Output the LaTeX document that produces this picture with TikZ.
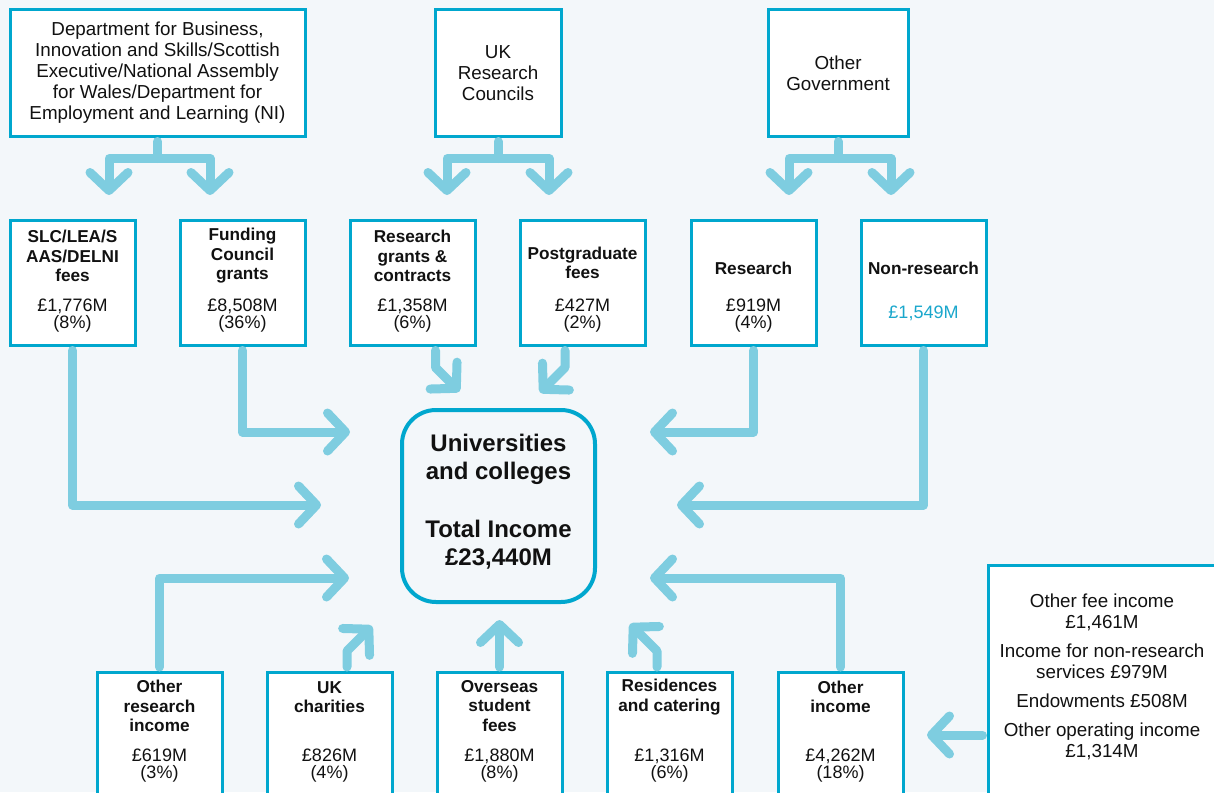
\documentclass[tikz,border=0pt]{standalone}
\usepackage{fontspec}
\setmainfont{Liberation Sans}
\usetikzlibrary{arrows.meta,positioning,calc}
\definecolor{pagebg}{HTML}{F3F7FA}
\definecolor{edgecol}{HTML}{00A7CE}
\definecolor{flowcol}{HTML}{7ECDE0}
\definecolor{ink}{HTML}{111111}
\definecolor{hicol}{HTML}{1AA7CC}

\begin{document}
\begin{tikzpicture}[
  x=0.5pt, y=-0.5pt, text=ink,
  font={\fontsize{9.4}{10.5}\selectfont},
  srcbox/.style={draw=edgecol, fill=white, line width=1.5pt, minimum height=63pt,
    align=center, inner sep=0pt},
  cellbox/.style={draw=edgecol, fill=white, line width=1.5pt, minimum width=62.5pt,
    minimum height=62.5pt, inner sep=0pt},
  ttl/.style={font={\bfseries\fontsize{8.6}{9.75}\selectfont}, align=center, inner sep=0pt},
  amt/.style={font={\fontsize{9}{8.5}\selectfont}, align=center, inner sep=0pt},
  link/.style={draw=flowcol, line width=4.5pt, line cap=round, line join=round},
  flow/.style={link, -{Straight Barb[length=9pt,width=19pt,round]}}]

\useasboundingbox (0,0) rectangle (1214,792);
\fill[pagebg] (0,0) rectangle (1214,792);

% ============================================== where the money comes from
\node[srcbox, minimum width=147.5pt] (dbis) at (157.5,73)
  {Department for Business,\\Innovation and Skills/Scottish\\Executive/National Assembly\\
   for Wales/Department for\\Employment and Learning (NI)};
\node[srcbox, minimum width=63pt] (ukrc) at (498,73) {UK\\Research\\Councils};
\node[srcbox, minimum width=70pt] (ogov) at (838,73) {Other\\Government};

% ============================================== middle row
\node[cellbox] (slc) at (72.5,282.5) {};
\node[cellbox] (fcg) at (242.5,282.5) {};
\node[cellbox] (rgc) at (412.5,282.5) {};
\node[cellbox] (pgf) at (582.5,282.5) {};
\node[cellbox] (ogr) at (753.5,282.5) {};
\node[cellbox] (ogn) at (923.5,282.5) {};

\node[ttl] (slc-t) at (72.5,256) {SLC/LEA/S\\AAS/DELNI\\fees};
\node[amt] (slc-v) at (72.5,316) {£1,776M\\(8\%)};
\node[ttl] (fcg-t) at (242.5,256) {Funding\\Council\\grants};
\node[amt] (fcg-v) at (242.5,316) {£8,508M\\(36\%)};
\node[ttl] (rgc-t) at (412.5,256) {Research\\grants \&\\contracts};
\node[amt] (rgc-v) at (412.5,316) {£1,358M\\(6\%)};
\node[ttl] (pgf-t) at (582.5,263) {Postgraduate\\fees};
\node[amt] (pgf-v) at (582.5,316) {£427M\\(2\%)};
\node[ttl] (ogr-t) at (753.5,268) {Research};
\node[amt] (ogr-v) at (753.5,316) {£919M\\(4\%)};
\node[ttl] (ogn-t) at (923.5,268) {Non-research};
\node[amt, text=hicol] (ogn-v) at (923.5,313) {£1,549M};

% ============================================== the universities
\node[draw=edgecol, fill=pagebg, line width=2pt, rounded corners=17pt,
  minimum width=96.5pt, minimum height=96pt] (uni) at (498.5,506) {};
\node[font={\bfseries\fontsize{12}{14}\selectfont}, align=center, inner sep=0pt] (uni-t)
  at (498.5,502) {Universities\\and colleges\\[15pt]Total Income\\£23,440M};

% ============================================== bottom row
\node[cellbox] (ori) at (159.5,735) {};
\node[cellbox] (ukc) at (329.5,735) {};
\node[cellbox] (osf) at (499.5,735) {};
\node[cellbox] (rac) at (669.5,735) {};
\node[cellbox] (oin) at (840.5,735) {};

\node[ttl] (ori-t) at (159.5,706) {Other\\research\\income};
\node[amt] (ori-v) at (159.5,766) {£619M\\(3\%)};
\node[ttl] (ukc-t) at (329.5,697) {UK\\charities};
\node[amt] (ukc-v) at (329.5,766) {£826M\\(4\%)};
\node[ttl] (osf-t) at (499.5,706) {Overseas\\student\\fees};
\node[amt] (osf-v) at (499.5,766) {£1,880M\\(8\%)};
\node[ttl] (rac-t) at (669.5,697) {Residences\\and catering};
\node[amt] (rac-v) at (669.5,766) {£1,316M\\(6\%)};
\node[ttl] (oin-t) at (840.5,697) {Other\\income};
\node[amt] (oin-v) at (840.5,766) {£4,262M\\(18\%)};

% breakdown of other income, runs off the page
\node[draw=edgecol, fill=white, line width=1.5pt, minimum width=120pt,
  minimum height=120pt, inner sep=0pt] (odet) at (1108,685) {};
\node[align=center, inner sep=0pt] (odet-t) at (1102,677)
  {Other fee income\\£1,461M\\[4pt]Income for non-research\\services £979M\\[4pt]
   Endowments £508M\\[4pt]Other operating income\\£1,314M};

% ============================================== forks from the sources
\coordinate (dbis-fork) at ($(dbis.south)+(0,21)$);
\coordinate (slc-in) at (109,195);
\coordinate (fcg-in) at (210,195);
\draw[link, shorten <=2pt] (dbis.south) -- (dbis-fork);
\draw[flow] (dbis-fork) -| (slc-in);
\draw[flow] (dbis-fork) -| (fcg-in);

\coordinate (ukrc-fork) at ($(ukrc.south)+(0,21)$);
\coordinate (rgc-in) at (447,195);
\coordinate (pgf-in) at (549,195);
\draw[link, shorten <=2pt] (ukrc.south) -- (ukrc-fork);
\draw[flow] (ukrc-fork) -| (rgc-in);
\draw[flow] (ukrc-fork) -| (pgf-in);

\coordinate (ogov-fork) at ($(ogov.south)+(0,21)$);
\coordinate (ogr-in) at (789,195);
\coordinate (ogn-in) at (891,195);
\draw[link, shorten <=2pt] (ogov.south) -- (ogov-fork);
\draw[flow] (ogov-fork) -| (ogr-in);
\draw[flow] (ogov-fork) -| (ogn-in);

% ============================================== into the universities
\coordinate (slc-end) at (321,505);
\coordinate (fcg-end) at (350,432);
\draw[flow, shorten <=2pt] (slc.south) |- (slc-end);
\draw[flow, shorten <=2pt] (fcg.south) |- (fcg-end);

\coordinate (rgc-bend) at ($(rgc.south)+(23,21)$);
\coordinate (rgc-end) at ($(rgc-bend)+(24,24)$);
\draw[flow, shorten <=2pt] ($(rgc.south)+(23,0)$) -- (rgc-bend) -- (rgc-end);
\coordinate (pgf-bend) at ($(pgf.south)+(-17.5,21)$);
\coordinate (pgf-end) at ($(pgf-bend)+(-25,25)$);
\draw[flow, shorten <=2pt] ($(pgf.south)+(-17.5,0)$) -- (pgf-bend) -- (pgf-end);

\coordinate (ogr-end) at (650,432);
\coordinate (ogn-end) at (677,505);
\draw[flow, shorten <=2pt] (ogr.south) |- (ogr-end);
\draw[flow, shorten <=2pt] (ogn.south) |- (ogn-end);

\coordinate (ori-end) at (349,578);
\draw[flow, shorten <=2pt] (ori.north) |- (ori-end);
\coordinate (ukc-bend) at ($(ukc.north)+(17.5,-20)$);
\coordinate (ukc-end) at ($(ukc-bend)+(25,-25)$);
\draw[flow, shorten <=2pt] ($(ukc.north)+(17.5,0)$) -- (ukc-bend) -- (ukc-end);
\coordinate (osf-end) at (499.5,620);
\draw[flow, shorten <=2pt] (osf.north) -- (osf-end);
\coordinate (rac-bend) at ($(rac.north)+(-12.5,-20)$);
\coordinate (rac-end) at ($(rac-bend)+(-27,-27)$);
\draw[flow, shorten <=2pt] ($(rac.north)+(-12.5,0)$) -- (rac-bend) -- (rac-end);
\coordinate (oin-end) at (650,578);
\draw[flow, shorten <=2pt] (oin.north) |- (oin-end);

\coordinate (odet-end) at (927,735);
\draw[flow, shorten <=2pt] (odet.west |- oin) -- (odet-end);

\end{tikzpicture}
\end{document}
